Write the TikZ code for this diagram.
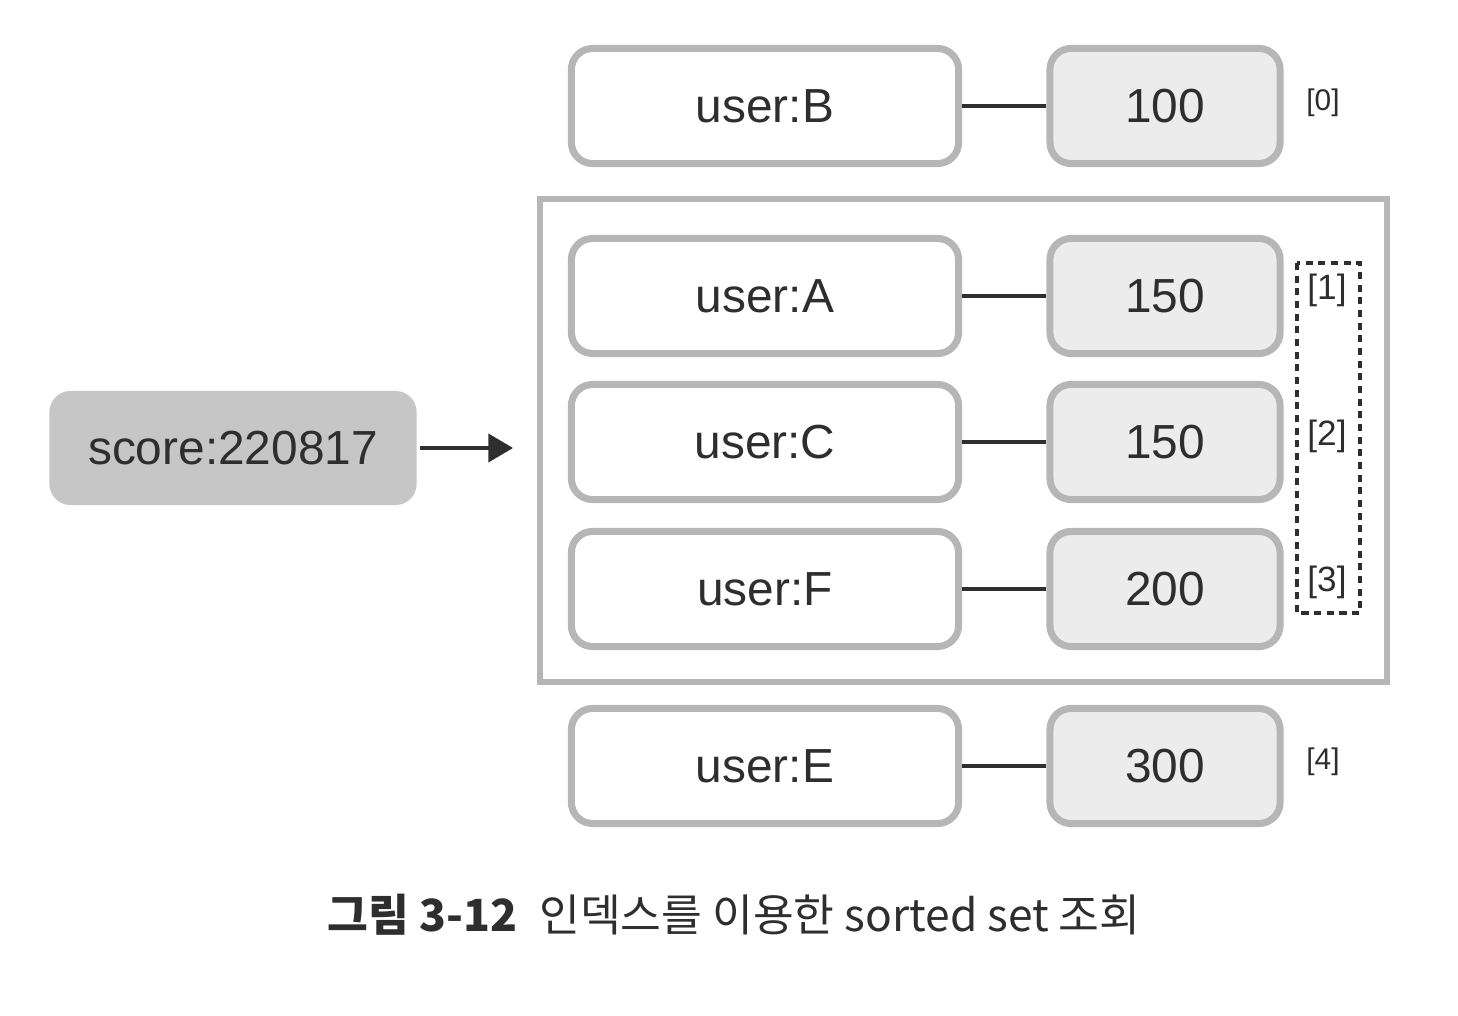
\documentclass[tikz,border=0pt]{standalone}
\usepackage{fontspec}
\setmainfont{Liberation Sans}
\newfontfamily\krfont{Noto Sans CJK KR}
\usetikzlibrary{arrows.meta}
\definecolor{boxline}{HTML}{B6B6B6}
\definecolor{valfill}{HTML}{ECECEC}
\definecolor{scorefill}{HTML}{C6C6C6}
\definecolor{ink}{HTML}{2E2E2E}
\begin{document}
\begin{tikzpicture}[x=0.01cm,y=-0.01cm,
    keybox/.style={draw=boxline,line width=2pt,rounded corners=6pt,fill=white,
      minimum width=3.87cm,minimum height=1.15cm,text=ink,
      font=\fontsize{13.6}{16}\selectfont},
    valbox/.style={keybox,fill=valfill,minimum width=2.30cm},
    idx/.style={text=ink,font=\fontsize{8.5}{10}\selectfont},
    link/.style={draw=ink,line width=1pt}]
  \useasboundingbox (0,0) rectangle (1458,1016);
  % the key
  \node[keybox,draw=none,fill=scorefill,minimum width=3.67cm,minimum height=1.14cm]
    (score) at (233,448) {score:220817};
  \coordinate (tip) at (513,448);
  \draw[link,-{Triangle[length=7pt,width=8pt]}] (score) -- (tip);
  % range frame
  \draw[boxline,line width=1.7pt] (540,199) rectangle (1387,682);
  % members and scores
  \foreach \name/\val/\y in {B/100/106, A/150/296, C/150/442, F/200/589, E/300/766} {
    \node[keybox] (k\name) at (765,\y) {user:\name};
    \node[valbox] (v\name) at (1165,\y) {\val};
    \draw[link] (k\name) -- (v\name);
  }
  % indexes
  \node[idx] (i0) at (1323,103) {[0]};
  \node[idx] (i4) at (1323,762) {[4]};
  \draw[ink,line width=1pt,dash pattern=on 2pt off 1.6pt] (1297,263) rectangle (1360,613);
  \foreach \i/\y in {1/290, 2/436, 3/582}
    \node[idx,font=\fontsize{10}{12}\selectfont] (i\i) at (1327,\y) {[\i]};
  % caption
  \node[text=ink,font=\krfont\fontsize{12.6}{15}\selectfont] (cap) at (734,915)
    {\textbf{그림 3-12}\hspace{0.5em}인덱스를 이용한 sorted set 조회};
\end{tikzpicture}
\end{document}
